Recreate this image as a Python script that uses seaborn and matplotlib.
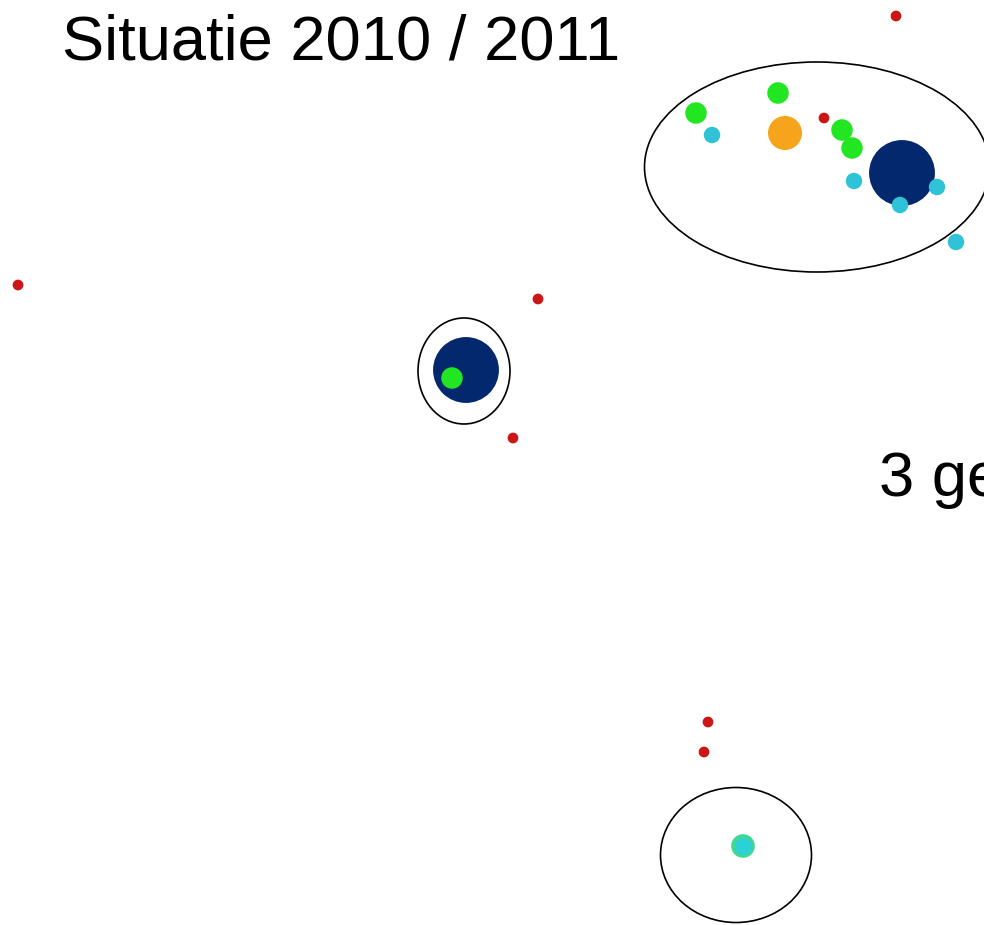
import pandas as pd
import matplotlib.pyplot as plt
import seaborn as sns
from matplotlib.patches import Ellipse

# locaties (pixel-coordinaten van de kaart, y naar beneden)
categorie = ['groot', 'groot', 'middel', 'klein', 'klein', 'klein', 'klein', 'klein',
             'klein', 'turkoois', 'cyaan', 'cyaan', 'cyaan', 'cyaan', 'cyaan',
             'punt', 'punt', 'punt', 'punt', 'punt', 'punt', 'punt']
x = [902, 466, 785, 778, 696, 842, 852, 452,
     743, 743, 712, 854, 937, 900, 956,
     896, 824, 18, 538, 513, 708, 704]
y = [173, 370, 133, 93, 113, 130, 148, 378,
     846, 846, 135, 181, 187, 205, 242,
     16, 118, 285, 299, 438, 722, 752]

kleuren = {'groot': '#04286e', 'middel': '#f5a41c', 'klein': '#22e622',
           'turkoois': '#40d890', 'cyaan': '#30c2d6', 'punt': '#cc1515'}
groottes = {'groot': 2250, 'middel': 600, 'klein': 240,
            'turkoois': 290, 'cyaan': 140, 'punt': 60}

# omcirkelde gebieden: middelpunt, breedte, hoogte
ellips_x = [817, 464, 736]
ellips_y = [167, 371, 855]
ellips_b = [345, 92, 151]
ellips_h = [210, 106, 135]

df = pd.DataFrame({'x': x, 'y': y, 'cat': categorie})

fig = plt.figure(figsize=(9.84, 9.25), dpi=100)
ax = fig.add_axes([0, 0, 1, 1])

sns.scatterplot(data=df, x='x', y='y', hue='cat', size='cat', palette=kleuren,
                sizes=groottes, linewidth=0, legend=False, ax=ax, zorder=3)
# turkoois punt op de onderste locatie
ax.scatter([743], [846], s=150, color='#2ad2d8', linewidth=0, zorder=4)

for ex, ey, eb, eh in zip(ellips_x, ellips_y, ellips_b, ellips_h):
    ax.add_patch(Ellipse((ex, ey), eb, eh, fill=False, edgecolor='black', linewidth=1.2, zorder=2))

ax.text(62, 59, 'Situatie 2010 / 2011', fontsize=45.5, family='Liberation Sans', va='baseline')
ax.text(879, 496, '3 ge', fontsize=45.5, family='Liberation Sans', va='baseline')

ax.set_xlim(0, 984)
ax.set_ylim(925, 0)
ax.axis('off')

plt.savefig('out.png', dpi=100)
plt.close()
